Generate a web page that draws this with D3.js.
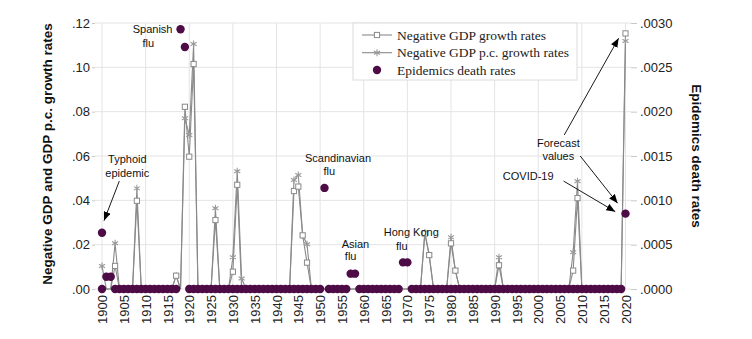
<!DOCTYPE html>
<html><head><meta charset="utf-8">
<script src="https://cdn.jsdelivr.net/npm/d3@7"></script>
<style>body{margin:0;background:#fff}svg{display:block}</style>
</head><body><svg id="c" width="752" height="339"></svg>
<script>
// ---------------- data ----------------
const years = d3.range(1900, 2021);
// Negative GDP growth rates (left axis), 1900..2020
const gdpNeg = [
  0, 0, 0, .0104, 0, 0, 0, 0, .0398, 0,            // 1900s
  0, 0, 0, 0, 0, 0, 0, .006, 0, .0822,             // 1910s
  .0597, .1015, 0, 0, 0, 0, .0311, 0, 0, 0,        // 1920s
  .0078, .047, 0, 0, 0, 0, 0, 0, 0, 0,             // 1930s
  0, 0, 0, 0, .0442, .0462, .0242, .0119, 0, 0,    // 1940s
  0, 0, 0, 0, 0, 0, 0, 0, 0, 0,                    // 1950s
  0, 0, 0, 0, 0, 0, 0, 0, 0, 0,                    // 1960s
  0, 0, 0, 0, .025, .0153, 0, 0, 0, 0,             // 1970s
  .0206, .0083, 0, 0, 0, 0, 0, 0, 0, 0,            // 1980s
  0, .0107, 0, 0, 0, 0, 0, 0, 0, 0,                // 1990s
  0, 0, 0, 0, 0, 0, 0, 0, .0083, .041,             // 2000s
  0, 0, 0, 0, 0, 0, 0, 0, 0, 0,                    // 2010s
  .1153                                            // 2020
];
// Negative GDP per-capita growth rates (left axis)
const gdpPcNeg = [
  .0104, 0, 0, .0206, 0, 0, 0, 0, .0454, 0,
  0, 0, 0, 0, 0, 0, 0, .006, 0, .077,
  .0695, .1105, 0, 0, 0, 0, .0364, 0, 0, 0,
  .0143, .0531, .0047, 0, 0, 0, 0, 0, 0, 0,
  0, 0, 0, 0, .0492, .0514, .0242, .0202, 0, 0,
  0, 0, 0, 0, 0, 0, 0, 0, 0, 0,
  0, 0, 0, 0, 0, 0, 0, 0, 0, 0,
  0, 0, 0, 0, .0255, .0153, 0, 0, 0, 0,
  .0233, .0083, 0, 0, 0, 0, 0, 0, 0, 0,
  0, .0143, 0, 0, 0, 0, 0, 0, 0, 0,
  0, 0, 0, 0, 0, 0, 0, 0, .0166, .0486,
  0, 0, 0, 0, 0, 0, 0, 0, 0, 0,
  .1119
];
// Epidemics death rates (right axis)
const deathRates = [
  .000635, .000139, .000139, 0, 0, 0, 0, 0, 0, 0,
  0, 0, 0, 0, 0, 0, 0, 0, .00293, .00273,
  0, 0, 0, 0, 0, 0, 0, 0, 0, 0,
  0, 0, 0, 0, 0, 0, 0, 0, 0, 0,
  0, 0, 0, 0, 0, 0, 0, 0, 0, 0,
  0, .00114, 0, 0, 0, 0, 0, .000173, .000173, 0,
  0, 0, 0, 0, 0, 0, 0, 0, 0, .0003,
  .0003, 0, 0, 0, 0, 0, 0, 0, 0, 0,
  0, 0, 0, 0, 0, 0, 0, 0, 0, 0,
  0, 0, 0, 0, 0, 0, 0, 0, 0, 0,
  0, 0, 0, 0, 0, 0, 0, 0, 0, 0,
  0, 0, 0, 0, 0, 0, 0, 0, 0, 0,
  .00085
];
// an additional zero observation shown at 1900
const extraDeathYears = [1900];
const extraDeathRates = [0];
const leftTicks = [0, .02, .04, .06, .08, .10, .12];
const leftTickLabels = [".00", ".02", ".04", ".06", ".08", ".10", ".12"];
const rightTicks = [0, .0005, .001, .0015, .002, .0025, .003];
const rightTickLabels = [".0000", ".0005", ".0010", ".0015", ".0020", ".0025", ".0030"];
const xTicks = [1900,1905,1910,1915,1920,1925,1930,1935,1940,1945,1950,1955,1960,1965,1970,1975,1980,1985,1990,1995,2000,2005,2010,2015,2020];
const xGridTicks = [1900,1910,1920,1930,1940,1950,1960,1970,1980,1990,2000,2010,2020];
const seriesNames = ["Negative GDP growth rates", "Negative GDP p.c. growth rates", "Epidemics death rates"];
// annotation texts: lines at (year, left-axis value)
const labels = [
  {t: "Spanish", yr: 1911.6, v: .1173}, {t: "flu", yr: 1910.6, v: .1111},
  {t: "Typhoid", yr: 1905.8, v: .0586}, {t: "epidemic", yr: 1905.8, v: .0522},
  {t: "Scandinavian", yr: 1954.1, v: .0592}, {t: "flu", yr: 1952.1, v: .0532},
  {t: "Asian", yr: 1958.1, v: .0203}, {t: "flu", yr: 1957.0, v: .0146},
  {t: "Hong Kong", yr: 1970.9, v: .0256}, {t: "flu", yr: 1968.7, v: .0195},
  {t: "Forecast", yr: 2004.6, v: .066}, {t: "values", yr: 2004.6, v: .060},
  {t: "COVID-19", yr: 1997.7, v: .0507}
];
const arrows = [
  {y0: 1903.97, v0: .0487, y1: 1900.46, v1: .0308},
  {y0: 2005.96, v0: .0695, y1: 2018.42, v1: .1131},
  {y0: 2009.63, v0: .0600, y1: 2018.19, v1: .0387},
  {y0: 2005.80, v0: .0487, y1: 2017.66, v1: .0349}
];

// ---------------- chart ----------------
const svg = d3.select("#c");
const sans = "'Liberation Sans', Arial, Helvetica, sans-serif";
const serif = "'Liberation Serif', 'Times New Roman', serif";
const purple = "#4d0c46", lineGray = "#8a8a8a", gridCol = "#e4e4e4";

const x = d3.scaleLinear().domain([1900, 2020]).range([102, 625.5]);
const yL = d3.scaleLinear().domain([0, .12]).range([289, 23]);
const yR = d3.scaleLinear().domain([0, .003]).range([289, 23]);
const plotL = 95, plotR = 631;

// gridlines
svg.append("g").selectAll("line").data(leftTicks).join("line")
  .attr("x1", plotL).attr("x2", plotR).attr("y1", d => yL(d)).attr("y2", d => yL(d))
  .attr("stroke", gridCol).attr("stroke-width", 1);
svg.append("g").selectAll("line").data(xGridTicks).join("line")
  .attr("x1", d => x(d)).attr("x2", d => x(d)).attr("y1", yL(.12)).attr("y2", yL(0))
  .attr("stroke", gridCol).attr("stroke-width", 1);

// axes
const gl = svg.append("g").attr("transform", `translate(${plotL},0)`)
  .call(d3.axisLeft(yL).tickValues(leftTicks).tickFormat((d, i) => leftTickLabels[i]).tickSize(3).tickPadding(2));
const gr = svg.append("g").attr("transform", `translate(${plotR},0)`)
  .call(d3.axisRight(yR).tickValues(rightTicks).tickFormat((d, i) => rightTickLabels[i]).tickSize(6).tickPadding(3));
const gx = svg.append("g").attr("transform", `translate(0,291)`)
  .call(d3.axisBottom(x).tickValues(xTicks).tickFormat(d3.format("d")).tickSize(0));
[gl, gr, gx].forEach(g => {
  g.select(".domain").remove();
  g.selectAll(".tick line").attr("stroke", "#c8c8c8");
  g.selectAll("text").attr("font-family", sans).attr("font-size", 13).attr("fill", "#222");
});
gx.selectAll("text").attr("transform", "rotate(-90)").attr("x", -4).attr("y", 0)
  .attr("dy", "0.35em").attr("text-anchor", "end");

// axis titles
svg.append("text").attr("transform", "translate(47,154) rotate(-90)")
  .attr("text-anchor", "middle").attr("dy", "0.35em")
  .attr("font-family", sans).attr("font-weight", "bold").attr("font-size", 13.5).attr("fill", "#111")
  .text("Negative GDP and GDP p.c. growth rates");
svg.append("text").attr("transform", "translate(697,156) rotate(90)")
  .attr("text-anchor", "middle").attr("dy", "0.35em")
  .attr("font-family", sans).attr("font-weight", "bold").attr("font-size", 13.5).attr("fill", "#111")
  .text("Epidemics death rates");

// lines
const pts = (arr) => years.map((yr, i) => ({yr, v: arr[i]}));
const lineGen = d3.line().x(d => x(d.yr)).y(d => yL(d.v));
svg.append("path").datum(pts(gdpPcNeg)).attr("d", lineGen)
  .attr("fill", "none").attr("stroke", lineGray).attr("stroke-width", 1.1);
svg.append("path").datum(pts(gdpNeg)).attr("d", lineGen)
  .attr("fill", "none").attr("stroke", lineGray).attr("stroke-width", 1.1);

const star = d3.symbol(d3.symbolAsterisk, 34);
svg.append("g").selectAll("path").data(pts(gdpPcNeg).filter(d => d.v > 0)).join("path")
  .attr("d", star).attr("transform", d => `translate(${x(d.yr)},${yL(d.v)})`)
  .attr("fill", "none").attr("stroke", "#999").attr("stroke-width", 1.1);
svg.append("g").selectAll("rect").data(pts(gdpNeg).filter(d => d.v > 0)).join("rect")
  .attr("x", d => x(d.yr) - 2.6).attr("y", d => yL(d.v) - 2.6).attr("width", 5.2).attr("height", 5.2)
  .attr("fill", "#fff").attr("stroke", lineGray).attr("stroke-width", 1);

// death-rate dots
const deathPts = pts(deathRates).concat(extraDeathYears.map((yr, i) => ({yr, v: extraDeathRates[i]})));
svg.append("g").selectAll("circle").data(deathPts).join("circle")
  .attr("cx", d => x(d.yr)).attr("cy", d => yR(d.v)).attr("r", 4.2).attr("fill", purple);

// legend
const lg = svg.append("g");
lg.append("rect").attr("x", 353).attr("y", 23).attr("width", 224).attr("height", 57)
  .attr("fill", "#fff").attr("stroke", "#dcdcdc");
const rowsY = [35, 52.7, 70];
seriesNames.forEach((name, i) => {
  const ry = rowsY[i];
  if (i < 2) {
    lg.append("line").attr("x1", 362).attr("x2", 392).attr("y1", ry).attr("y2", ry)
      .attr("stroke", lineGray).attr("stroke-width", 1.1);
  }
  if (i === 0) lg.append("rect").attr("x", 374.4).attr("y", ry - 2.6).attr("width", 5.2).attr("height", 5.2)
      .attr("fill", "#fff").attr("stroke", lineGray);
  if (i === 1) lg.append("path").attr("d", star).attr("transform", `translate(377,${ry})`)
      .attr("fill", "none").attr("stroke", "#999").attr("stroke-width", 1.1);
  if (i === 2) lg.append("circle").attr("cx", 377).attr("cy", ry).attr("r", 4.2).attr("fill", purple);
  lg.append("text").attr("x", 397).attr("y", ry).attr("dy", "0.35em")
    .attr("font-family", serif).attr("font-size", 13.5).attr("fill", "#222").text(name);
});

// annotations
svg.append("defs").append("marker").attr("id", "ah").attr("viewBox", "0 0 10 8")
  .attr("refX", 10).attr("refY", 4).attr("markerWidth", 9).attr("markerHeight", 7.5)
  .attr("markerUnits", "userSpaceOnUse").attr("orient", "auto")
  .append("path").attr("d", "M0,0L10,4L0,8Z").attr("fill", "#000");
svg.append("g").selectAll("line").data(arrows).join("line")
  .attr("x1", d => x(d.y0)).attr("y1", d => yL(d.v0)).attr("x2", d => x(d.y1)).attr("y2", d => yL(d.v1))
  .attr("stroke", "#000").attr("stroke-width", 0.9).attr("marker-end", "url(#ah)");
svg.append("g").selectAll("text").data(labels).join("text")
  .attr("x", d => x(d.yr)).attr("y", d => yL(d.v)).attr("dy", "0.35em").attr("text-anchor", "middle")
  .attr("font-family", sans).attr("font-size", 11).attr("fill", "#111").text(d => d.t);
</script></body></html>
